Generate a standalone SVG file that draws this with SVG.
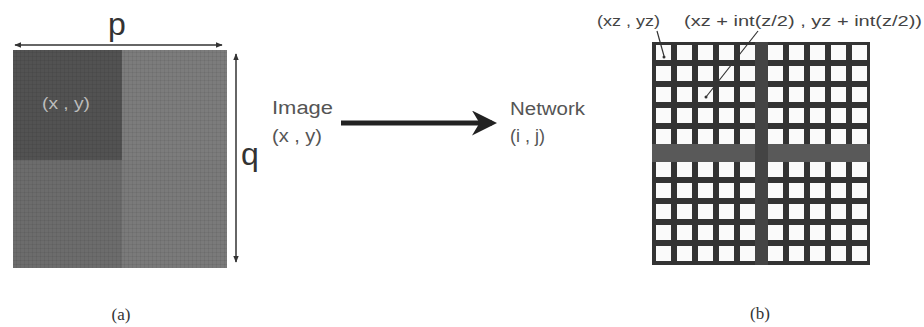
<svg xmlns="http://www.w3.org/2000/svg" width="924" height="327" viewBox="0 0 924 327">
<style>
.lbl{font-family:"Liberation Sans",Arial,sans-serif;fill:#555}
.cap{font-family:"Liberation Serif","Times New Roman",serif;font-size:17px;fill:#333}
.sq{fill:#fafafa}
.thin{stroke:#333;stroke-width:1.5;fill:none}
</style>
<defs>
<marker id="sa" viewBox="0 0 10 10" refX="9" refY="5" markerWidth="7" markerHeight="7" orient="auto-start-reverse" markerUnits="userSpaceOnUse"><path d="M0,1 L10,5 L0,9 z" fill="#333"/></marker>
<marker id="big" viewBox="0 0 10 10" refX="8" refY="5" markerWidth="5" markerHeight="5" orient="auto"><path d="M0,0 L10,5 L0,10 L3,5 z" fill="#222"/></marker>
<pattern id="tex" width="4" height="4" patternUnits="userSpaceOnUse"><path d="M0,0.5 H4 M0.5,0 V4" stroke="#000" stroke-opacity="0.06" stroke-width="1"/></pattern>
<g id="cell"><rect class="sq" width="15" height="15"/></g>
<g id="row5"><use href="#cell" x="0"/><use href="#cell" x="21"/><use href="#cell" x="42"/><use href="#cell" x="63"/><use href="#cell" x="84"/></g>
<g id="blk"><use href="#row5" y="0"/><use href="#row5" y="21"/><use href="#row5" y="42"/><use href="#row5" y="63"/><use href="#row5" y="84"/></g>
</defs>
<rect width="924" height="327" fill="#fff"/>

<g id="image">
<rect x="13" y="50" width="109" height="110" fill="#525252"/>
<rect x="122" y="50" width="105" height="110" fill="#7c7c7c"/>
<rect x="13" y="160" width="109" height="108" fill="#6c6c6c"/>
<rect x="122" y="160" width="105" height="108" fill="#7a7a7a"/>
<rect x="13" y="50" width="214" height="218" fill="url(#tex)"/>
<text x="42" y="109" class="lbl" style="font-size:17px;fill:#bdbdbd" textLength="48" lengthAdjust="spacingAndGlyphs">(x , y)</text>
</g>

<g id="dims">
<text x="117" y="35" class="lbl" text-anchor="middle" style="font-size:32px;fill:#333">p</text>
<text x="250" y="165" class="lbl" text-anchor="middle" style="font-size:32px;fill:#333">q</text>
</g>

<g id="image-label">
<text x="272" y="114" class="lbl" style="font-size:18px" textLength="61" lengthAdjust="spacingAndGlyphs">Image</text>
<text x="272" y="142" class="lbl" style="font-size:18px" textLength="50" lengthAdjust="spacingAndGlyphs">(x , y)</text>
</g>

<g id="network-label">
<text x="510" y="115" class="lbl" style="font-size:18px" textLength="75" lengthAdjust="spacingAndGlyphs">Network</text>
<text x="510" y="142" class="lbl" style="font-size:18px" textLength="35" lengthAdjust="spacingAndGlyphs">(i , j)</text>
</g>

<g id="network">
<rect x="652" y="42" width="218" height="223" fill="#333"/>
<rect x="652" y="144" width="218" height="18" fill="#595959"/>
<rect x="755" y="42" width="13" height="223" fill="#444"/>
<use href="#blk" x="656" y="45"/>
<use href="#blk" x="768" y="45"/>
<use href="#blk" x="656" y="162"/>
<use href="#blk" x="768" y="162"/>
<text x="597" y="26" class="lbl" style="font-size:15px;fill:#444" textLength="63" lengthAdjust="spacingAndGlyphs">(xz , yz)</text>
<text x="684" y="26" class="lbl" style="font-size:15px;fill:#444" textLength="238" lengthAdjust="spacingAndGlyphs">(xz + int(z/2) , yz + int(z/2))</text>
</g>

<g id="connectors">
<line x1="15" y1="45" x2="222" y2="45" class="thin" marker-start="url(#sa)" marker-end="url(#sa)"/>
<line x1="236" y1="54" x2="236" y2="262" class="thin" marker-start="url(#sa)" marker-end="url(#sa)"/>
<line x1="341" y1="123" x2="492" y2="123" stroke="#222" stroke-width="5" marker-end="url(#big)"/>
<line x1="657" y1="31" x2="664" y2="56" stroke="#333" stroke-width="1.2"/>
<circle cx="664" cy="57" r="1.5" fill="#333"/>
<line x1="758" y1="31" x2="706" y2="97" stroke="#333" stroke-width="1.2"/>
<circle cx="706" cy="97" r="1.5" fill="#333"/>
</g>

<text x="121" y="320" class="cap" text-anchor="middle">(a)</text>
<text x="760" y="319" class="cap" text-anchor="middle">(b)</text>
</svg>
